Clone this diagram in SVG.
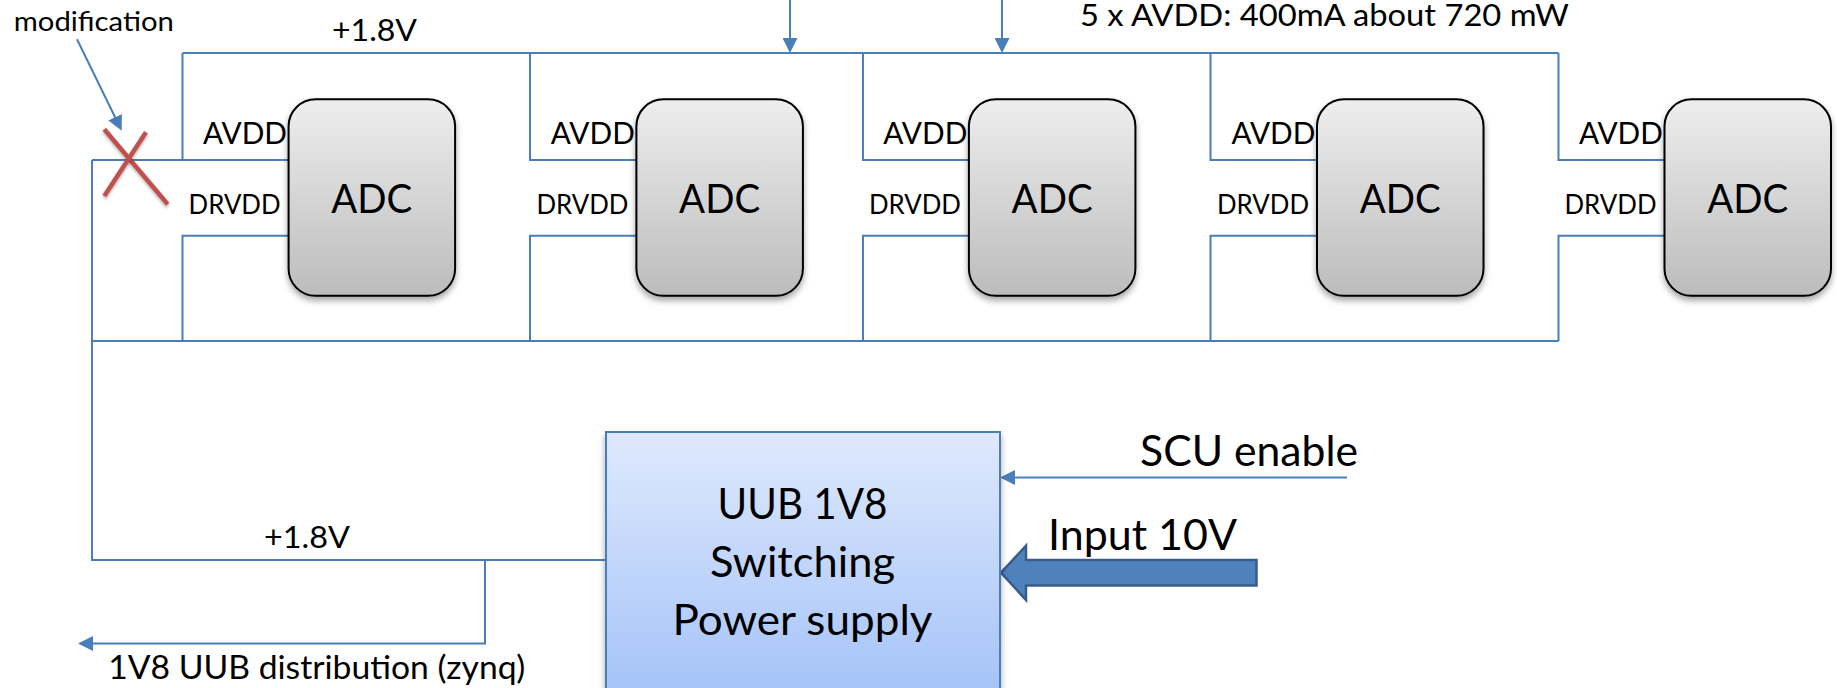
<svg xmlns="http://www.w3.org/2000/svg" width="1837" height="688" viewBox="0 0 1837 688">
<style>
  .w{fill:none;stroke:#4a7ebb;stroke-width:2}
  .t{font-family:Lato,"Open Sans","Liberation Sans",sans-serif;fill:#000}
  .adc{fill:url(#gAdc);stroke:#000;stroke-width:2;filter:url(#sh)}
  .lbA{font-size:30px;text-anchor:end}
  .lbD{font-size:27px}
  .lbC{font-size:40px;text-anchor:middle}
  .x{stroke:#c0504d;stroke-width:4.5;stroke-linecap:butt;filter:url(#sh2)}
</style>
<defs>
  <linearGradient id="gAdc" x1="0" y1="0" x2="0" y2="1">
    <stop offset="0" stop-color="#eeeeee"/>
    <stop offset="1" stop-color="#bcbcbc"/>
  </linearGradient>
  <linearGradient id="gPsu" x1="0" y1="0" x2="0" y2="1">
    <stop offset="0" stop-color="#dfe9fd"/>
    <stop offset="1" stop-color="#a3c2f8"/>
  </linearGradient>
  <filter id="sh" x="-20%" y="-20%" width="140%" height="140%">
    <feDropShadow dx="0" dy="4" stdDeviation="3" flood-color="#000" flood-opacity="0.35"/>
  </filter>
  <filter id="sh2" x="-20%" y="-20%" width="140%" height="140%">
    <feDropShadow dx="0" dy="2" stdDeviation="1.5" flood-color="#000" flood-opacity="0.3"/>
  </filter>
  <marker id="ah" viewBox="0 0 15 15" markerUnits="userSpaceOnUse" markerWidth="15" markerHeight="15" refX="10" refY="7.5" orient="auto">
    <path d="M0,0 L15,7.5 L0,15 z" fill="#4a7ebb"/>
  </marker>
</defs>
<rect width="1837" height="688" fill="#fff"/>

<g id="connectors">
  <path class="w" d="M182.5,53 H1558.5"/>
  <path class="w" d="M182.5,53 V160 M92,160 H288.6"/>
  <path class="w" d="M530,53 V160 H636.4"/>
  <path class="w" d="M863,53 V160 H968.9"/>
  <path class="w" d="M1210.5,53 V160 H1317"/>
  <path class="w" d="M1558.5,53 V160 H1664.5"/>
  <path class="w" d="M288.6,235.7 H182.5 V341"/>
  <path class="w" d="M636.4,235.7 H530 V341"/>
  <path class="w" d="M968.9,235.7 H863 V341"/>
  <path class="w" d="M1317,235.7 H1210.5 V341"/>
  <path class="w" d="M1664.5,235.7 H1558.5 V341"/>
  <path class="w" d="M92,341 H1558.5"/>
  <path class="w" d="M92,160 V560 H606"/>
  <path class="w" d="M485,560 V643.5 H83" marker-end="url(#ah)"/>
  <path class="w" d="M790,0 V48" marker-end="url(#ah)"/>
  <path class="w" d="M1002,0 V48" marker-end="url(#ah)"/>
  <path class="w" d="M77,39.3 L119.5,126.2" marker-end="url(#ah)"/>
  <path class="w" d="M1347,477.5 H1005" marker-end="url(#ah)"/>
  <polygon points="1001,572.7 1026,545.7 1026,560 1256.5,560 1256.5,585.5 1026,585.5 1026,600" fill="#4f81bd" stroke="#385d8a" stroke-width="2.5" stroke-linejoin="miter"/>
  <line class="x" x1="104.3" y1="129.3" x2="167.7" y2="204.3"/>
  <line class="x" x1="146" y1="132.3" x2="104.3" y2="196"/>
</g>

<g id="labels" class="t">
  <text x="13.8" y="31" font-size="27" textLength="160" lengthAdjust="spacingAndGlyphs">modification</text>
  <text x="332" y="40.7" font-size="30" textLength="85" lengthAdjust="spacingAndGlyphs">+1.8V</text>
  <text x="1080" y="26" font-size="30" textLength="489" lengthAdjust="spacingAndGlyphs">5 x AVDD: 400mA about 720 mW</text>
  <text x="264" y="548.3" font-size="30" textLength="86" lengthAdjust="spacingAndGlyphs">+1.8V</text>
  <text x="108.3" y="679" font-size="33" textLength="417" lengthAdjust="spacingAndGlyphs">1V8 UUB distribution (zynq)</text>
  <text x="1140" y="465.7" font-size="43" textLength="218" lengthAdjust="spacingAndGlyphs">SCU enable</text>
  <text x="1048" y="550" font-size="42" textLength="189" lengthAdjust="spacingAndGlyphs">Input 10V</text>
</g>

<g id="adc1" class="t">
  <rect class="adc" x="288.6" y="99.3" width="166.5" height="196.5" rx="27"/>
  <text class="lbA" x="287" y="143.5" textLength="84" lengthAdjust="spacingAndGlyphs">AVDD</text>
  <text class="lbD" x="188.6" y="214.3" textLength="92" lengthAdjust="spacingAndGlyphs">DRVDD</text>
  <text class="lbC" x="371.8" y="213.3" textLength="81" lengthAdjust="spacingAndGlyphs">ADC</text>
</g>
<g id="adc2" class="t">
  <rect class="adc" x="636.4" y="99.3" width="166.5" height="196.5" rx="27"/>
  <text class="lbA" x="634.8" y="143.5" textLength="84" lengthAdjust="spacingAndGlyphs">AVDD</text>
  <text class="lbD" x="536.4" y="214.3" textLength="92" lengthAdjust="spacingAndGlyphs">DRVDD</text>
  <text class="lbC" x="719.6" y="213.3" textLength="81" lengthAdjust="spacingAndGlyphs">ADC</text>
</g>
<g id="adc3" class="t">
  <rect class="adc" x="968.9" y="99.3" width="166.5" height="196.5" rx="27"/>
  <text class="lbA" x="967.3" y="143.5" textLength="84" lengthAdjust="spacingAndGlyphs">AVDD</text>
  <text class="lbD" x="868.9" y="214.3" textLength="92" lengthAdjust="spacingAndGlyphs">DRVDD</text>
  <text class="lbC" x="1052.1" y="213.3" textLength="81" lengthAdjust="spacingAndGlyphs">ADC</text>
</g>
<g id="adc4" class="t">
  <rect class="adc" x="1317" y="99.3" width="166.5" height="196.5" rx="27"/>
  <text class="lbA" x="1315.4" y="143.5" textLength="84" lengthAdjust="spacingAndGlyphs">AVDD</text>
  <text class="lbD" x="1217" y="214.3" textLength="92" lengthAdjust="spacingAndGlyphs">DRVDD</text>
  <text class="lbC" x="1400.2" y="213.3" textLength="81" lengthAdjust="spacingAndGlyphs">ADC</text>
</g>
<g id="adc5" class="t">
  <rect class="adc" x="1664.5" y="99.3" width="166.5" height="196.5" rx="27"/>
  <text class="lbA" x="1662.9" y="143.5" textLength="84" lengthAdjust="spacingAndGlyphs">AVDD</text>
  <text class="lbD" x="1564.5" y="214.3" textLength="92" lengthAdjust="spacingAndGlyphs">DRVDD</text>
  <text class="lbC" x="1747.7" y="213.3" textLength="81" lengthAdjust="spacingAndGlyphs">ADC</text>
</g>

<g id="psu" class="t">
  <rect x="606" y="432" width="394" height="270" fill="url(#gPsu)" stroke="#4a7ebb" stroke-width="2" filter="url(#sh)"/>
  <text x="802.5" y="519" font-size="42" text-anchor="middle" textLength="170" lengthAdjust="spacingAndGlyphs">UUB 1V8</text>
  <text x="802.5" y="577" font-size="42" text-anchor="middle" textLength="185" lengthAdjust="spacingAndGlyphs">Switching</text>
  <text x="802.5" y="635" font-size="42" text-anchor="middle" textLength="260" lengthAdjust="spacingAndGlyphs">Power supply</text>
</g>
</svg>
